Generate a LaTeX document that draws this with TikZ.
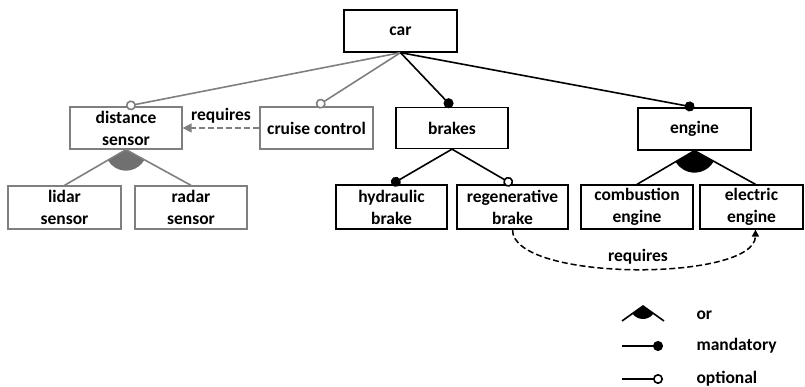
\documentclass[tikz,border=0pt]{standalone}
\usepackage{fontspec}
\setmainfont{Carlito}
\usetikzlibrary{arrows.meta,calc}
\definecolor{fgray}{HTML}{7F7F7F}
\definecolor{sgray}{HTML}{707070}
\begin{document}
\begin{tikzpicture}[x=1pt,y=-1pt,
  txt/.style={font=\fontsize{17.5}{22}\selectfont\bfseries},
  feat/.style={txt, draw, line width=1.3pt, inner sep=0pt, align=center},
  gfeat/.style={feat, draw=fgray},
  bline/.style={line width=1.6pt, black},
  gline/.style={line width=1.6pt, fgray},
  mand/.style={-{Circle[length=10pt,width=10pt]}},
  opt/.style={-{Circle[length=10pt,width=10pt,fill=white]}},
  reqline/.style={line width=1.5pt, dash pattern=on 6pt off 3pt},
]
\useasboundingbox (0,0) rectangle (805,387);

% features
\node[feat, minimum width=113pt, minimum height=42pt] (car) at (400.5,31) {car};
\node[gfeat, minimum width=112pt, minimum height=42pt] (dist) at (126,128) {distance\\sensor};
\node[gfeat, minimum width=113pt, minimum height=42pt] (cruise) at (316.5,128) {cruise control};
\node[feat, minimum width=112pt, minimum height=41pt] (brakes) at (452,128) {brakes};
\node[feat, minimum width=113pt, minimum height=42pt] (engine) at (694.5,129) {engine};
\node[gfeat, minimum width=113pt, minimum height=43pt] (lidar) at (64.5,207.5) {lidar\\sensor};
\node[gfeat, minimum width=112pt, minimum height=43pt] (radar) at (191,207.5) {radar\\sensor};
\node[feat, minimum width=111pt, minimum height=44pt] (hydraulic) at (391.5,207) {hydraulic\\brake};
\node[feat, minimum width=111pt, minimum height=44pt] (regen) at (512.5,207) {regenerative\\brake};
\node[feat, minimum width=112pt, minimum height=44pt] (comb) at (637,207) {combustion\\engine};
\node[feat, minimum width=103pt, minimum height=44pt] (electric) at (751.5,207) {electric\\engine};

% or groups
\fill[sgray] (dist.south) -- ++(30:21) arc[start angle=30, end angle=149.2, radius=21] -- cycle;
\fill[black] (engine.south) -- ++(29.4:22) arc[start angle=29.4, end angle=148.4, radius=22] -- cycle;

% connectors from car
\draw[gline, opt] (car.south) -- (dist.north);
\draw[gline, opt] (car.south) -- (cruise.north);
\draw[bline, mand] (car.south) -- (brakes.north);
\draw[bline, mand] (car.south) -- (engine.north);

% or children
\draw[gline] (dist.south) -- (lidar.north);
\draw[gline] (dist.south) -- (radar.north);
\draw[bline] (engine.south) -- (comb.north);
\draw[bline] (engine.south) -- ([xshift=4]electric.north);

% brakes children
\draw[bline, mand] (brakes.south) -- (hydraulic.north);
\draw[bline, opt] (brakes.south) -- (regen.north);

% requires
\draw[reqline, fgray, -{Triangle[length=9pt,width=9pt]}] (cruise.west) -- (dist.east)
  node[txt, midway, above=0pt, black, yshift=1pt] (req1) {requires};
\draw[reqline, -{Triangle[length=7pt,width=7pt]}] (regen.south) .. controls (512,282) and (755,282) .. ([xshift=4]electric.south);
\node[txt] (req2) at (638,257) {requires};

% legend
\coordinate (orA) at (643,306);
\coordinate (orL) at (622,321);
\coordinate (orR) at (664,321);
\fill[black] (orA) -- ++(36.9:13) arc[start angle=36.9, end angle=144.5, radius=13] -- cycle;
\draw[bline] (orL) -- (orA) -- (orR);
\node[txt, anchor=west] (lor) at (693,315) {or};

\coordinate (mL) at (622,346);
\coordinate (mR) at (663,346);
\draw[bline, mand] (mL) -- (mR);
\node[txt, anchor=west] (lmand) at (693,346) {mandatory};

\coordinate (oL) at (622,379);
\coordinate (oR) at (663,379);
\draw[bline, opt] (oL) -- (oR);
\node[txt, anchor=west] (lopt) at (693,379) {optional};
\end{tikzpicture}
\end{document}
